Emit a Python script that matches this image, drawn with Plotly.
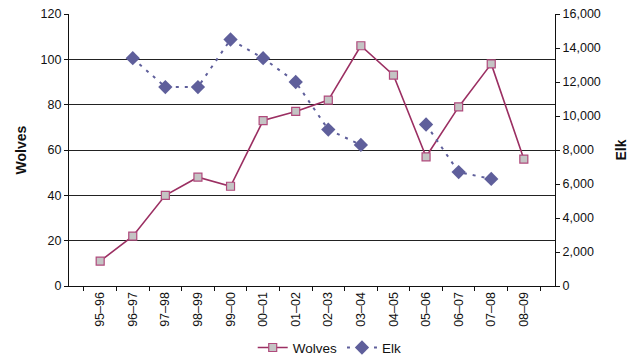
import plotly.graph_objects as go

seasons = ["95–96", "96–97", "97–98", "98–99", "99–00", "00–01", "01–02",
           "02–03", "03–04", "04–05", "05–06", "06–07", "07–08", "08–09"]
wolves = [11, 22, 40, 48, 44, 73, 77, 82, 106, 93, 57, 79, 98, 56]
elk = [None, 13400, 11700, 11700, 14500, 13400, 12000, 9200, 8300, None,
       9500, 6700, 6300, None]

FONT = "Liberation Sans Narrow, Arial Narrow, Liberation Sans, Arial, sans-serif"
WOLF_COLOR = "#9b2f62"
ELK_COLOR = "#5f5f9b"

fig = go.Figure()
fig.add_trace(go.Scatter(
    x=seasons, y=wolves, name="Wolves", mode="lines+markers",
    line=dict(color=WOLF_COLOR, width=1.6),
    marker=dict(symbol="square", size=8, color="#c4c4c4",
                line=dict(color="#b04a7c", width=1.2)),
    yaxis="y",
))
fig.add_trace(go.Scatter(
    x=seasons, y=elk, name="Elk", mode="lines+markers",
    line=dict(color=ELK_COLOR, width=2, dash="3px,6px"),
    marker=dict(symbol="diamond", size=11, color=ELK_COLOR),
    connectgaps=False, yaxis="y2",
))

fig.update_layout(
    width=636, height=358,
    margin=dict(l=69, r=81, t=14, b=72, autoexpand=False),
    paper_bgcolor="white", plot_bgcolor="white",
    font=dict(family=FONT, size=12, color="#111"),
    showlegend=True,
    legend=dict(orientation="h", x=0.378, xanchor="left", y=-0.17,
                yanchor="top", font=dict(size=13.5), itemwidth=30),
    xaxis=dict(
        type="category", tickangle=-90, showgrid=False, automargin=False,
        showline=True, linecolor="#111", linewidth=1.2,
        ticks="outside", ticklen=4, tickcolor="#111", tickson="boundaries",
        tickfont=dict(size=12.5), mirror=False,
    ),
    yaxis=dict(
        range=[0, 120], dtick=20, showgrid=True, gridcolor="#222",
        gridwidth=1, showline=True, linecolor="#111", linewidth=1.2,
        ticks="outside", ticklen=4, tickcolor="#111", zeroline=False,
        automargin=False,
        title=dict(text="<b>Wolves</b>", font=dict(size=14), standoff=10),
        tickfont=dict(size=12.5),
    ),
    yaxis2=dict(
        range=[0, 16000], dtick=2000, overlaying="y", side="right",
        showgrid=False, showline=True, linecolor="#111", linewidth=1.2,
        ticks="outside", ticklen=4, tickcolor="#111", tickformat=",d",
        zeroline=False, automargin=False,
        title=dict(text="<b>Elk</b>", font=dict(size=14), standoff=16),
        tickfont=dict(size=12.5),
    ),
)

fig.write_html("out.html")
